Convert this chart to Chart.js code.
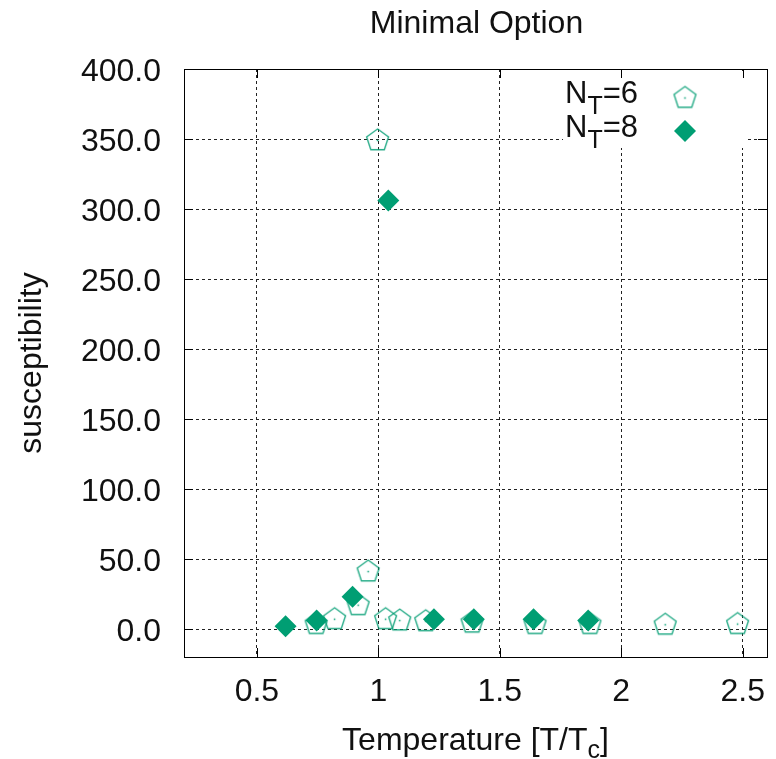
<!DOCTYPE html>
<html>
<head>
<meta charset="utf-8">
<script src="https://cdn.jsdelivr.net/npm/chart.js@4.4.0/dist/chart.umd.min.js"></script>
<style>
  html, body { margin: 0; padding: 0; background: #fff; }
</style>
</head>
<body>
<canvas id="myChart" width="776" height="759"></canvas>
<script>
// N_T = 6 (open pentagons)
var temp6 = [0.744, 0.82, 0.917, 0.958, 0.997, 1.03, 1.088, 1.195, 1.386, 1.645, 1.871, 2.181, 2.479];
var chi6 = [3.5, 7, 17, 41, 349, 7, 6, 5.5, 4.5, 3.5, 3.5, 3, 3.5];
// N_T = 8 (filled diamonds)
var temp8 = [0.618, 0.746, 0.894, 1.041, 1.229, 1.393, 1.639, 1.864];
var chi8 = [2, 6, 23, 306, 7, 7, 7, 6];

var xTicks = [0.5, 1, 1.5, 2, 2.5];
var yTicks = [0, 50, 100, 150, 200, 250, 300, 350, 400];

var green = "#009e73";
var FONT = "'Liberation Sans', Arial, sans-serif";

function toPoints(xs, ys) {
  var out = [];
  for (var i = 0; i < xs.length; i++) out.push({ x: xs[i], y: ys[i] });
  return out;
}

// pentagon marker as a small canvas
function makePentagon(r) {
  var c = document.createElement("canvas");
  var s = Math.ceil(r * 2 + 4);
  c.width = s;
  c.height = s;
  var g = c.getContext("2d");
  g.strokeStyle = "rgba(0,158,115,0.85)";
  g.lineWidth = 1.4;
  g.beginPath();
  for (var k = 0; k < 5; k++) {
    var a = -Math.PI / 2 + (k * 2 * Math.PI) / 5;
    var px = s / 2 + r * Math.cos(a);
    var py = s / 2 + r * Math.sin(a);
    if (k === 0) g.moveTo(px, py);
    else g.lineTo(px, py);
  }
  g.closePath();
  g.stroke();
  g.fillStyle = green;
  g.fillRect(s / 2 - 0.75, s / 2 - 0.75, 1.5, 1.5);
  return c;
}
var pentagon = makePentagon(11.5);

function drawSubText(ctx, x, y, parts) {
  // parts: [text, size, dy]
  parts.forEach(function (p) {
    ctx.font = p[1] + "px " + FONT;
    ctx.fillText(p[0], x, y + p[2]);
    x += ctx.measureText(p[0]).width;
  });
  return x;
}

function textWidth(ctx, parts) {
  var w = 0;
  parts.forEach(function (p) {
    ctx.font = p[1] + "px " + FONT;
    w += ctx.measureText(p[0]).width;
  });
  return w;
}

var decorations = {
  id: "decorations",
  beforeDatasetsDraw: function (chart) {
    var ctx = chart.ctx;
    var a = chart.chartArea;
    // key box hides the grid
    ctx.save();
    ctx.fillStyle = "#fff";
    ctx.fillRect(a.right - 204, a.top + 2, 185, 77);
    ctx.restore();
  },
  afterDraw: function (chart) {
    var ctx = chart.ctx;
    var a = chart.chartArea;
    var xs = chart.scales.x;
    var ys = chart.scales.y;
    ctx.save();
    ctx.strokeStyle = "#000";
    ctx.lineWidth = 1;
    ctx.strokeRect(Math.round(a.left) + 0.5, Math.round(a.top) + 0.5,
      Math.round(a.right - a.left), Math.round(a.bottom - a.top));
    // inward ticks on all four sides
    var tl = 9;
    ctx.beginPath();
    xTicks.forEach(function (v) {
      var px = Math.round(xs.getPixelForValue(v)) + 0.5;
      ctx.moveTo(px, a.bottom);
      ctx.lineTo(px, a.bottom - tl);
      ctx.moveTo(px, a.top);
      ctx.lineTo(px, a.top + tl);
    });
    yTicks.forEach(function (v) {
      var py = Math.round(ys.getPixelForValue(v)) + 0.5;
      ctx.moveTo(a.left, py);
      ctx.lineTo(a.left + tl, py);
      ctx.moveTo(a.right, py);
      ctx.lineTo(a.right - tl, py);
    });
    ctx.stroke();

    ctx.fillStyle = "#111";
    ctx.textBaseline = "alphabetic";
    ctx.textAlign = "left";

    // title
    ctx.font = "32px " + FONT;
    var tw = ctx.measureText("Minimal Option").width;
    ctx.fillText("Minimal Option", (a.left + a.right) / 2 + 1 - tw / 2, 33);

    // x axis title with subscript
    var xt = [["Temperature [T/T", 32, 0], ["c", 25, 8], ["]", 32, 0]];
    var xw = textWidth(ctx, xt);
    drawSubText(ctx, (a.left + a.right) / 2 - xw / 2, 750, xt);

    // key
    var kx = a.right - 202;
    drawSubText(ctx, kx, a.top + 34, [["N", 31, 0], ["T", 25, 11], ["=6", 31, 0]]);
    drawSubText(ctx, kx, a.top + 68, [["N", 31, 0], ["T", 25, 11], ["=8", 31, 0]]);

    var mx = a.right - 82;
    ctx.drawImage(pentagon, mx - pentagon.width / 2, a.top + 29 - pentagon.height / 2);
    ctx.fillStyle = green;
    ctx.beginPath();
    var my = a.top + 62, r = 11;
    ctx.moveTo(mx, my - r);
    ctx.lineTo(mx + r, my);
    ctx.lineTo(mx, my + r);
    ctx.lineTo(mx - r, my);
    ctx.closePath();
    ctx.fill();
    ctx.restore();
  },
};

var ctx = document.getElementById("myChart").getContext("2d");
new Chart(ctx, {
  type: "scatter",
  data: {
    datasets: [
      {
        label: "N_T=6",
        data: toPoints(temp6, chi6),
        pointStyle: pentagon,
        order: 1,
      },
      {
        label: "N_T=8",
        data: toPoints(temp8, chi8),
        pointStyle: "rectRot",
        pointRadius: 11,
        backgroundColor: green,
        borderColor: green,
        borderWidth: 0,
        order: 0,
      },
    ],
  },
  options: {
    responsive: false,
    animation: false,
    events: [],
    layout: { autoPadding: false, padding: { left: 8, right: 9, top: 69, bottom: 0 } },
    plugins: {
      legend: { display: false },
      tooltip: { enabled: false },
      title: { display: false },
    },
    scales: {
      x: {
        type: "linear",
        min: 0.2,
        max: 2.6,
        bounds: "data",
        afterBuildTicks: function (s) {
          s.ticks = xTicks.map(function (v) { return { value: v }; });
        },
        afterFit: function (s) {
          s.height = 102;
        },
        grid: {
          color: "#222",
          lineWidth: 1,
          drawTicks: true,
          tickLength: 13,
          tickColor: "rgba(0,0,0,0)",
        },
        border: { display: false, dash: [3, 3] },
        ticks: {
          autoSkip: false,
          maxRotation: 0,
          padding: 3,
          color: "#111",
          font: { family: FONT, size: 32 },
          callback: function (v) { return String(v); },
        },
      },
      y: {
        type: "linear",
        min: -20,
        max: 400,
        bounds: "data",
        afterBuildTicks: function (s) {
          s.ticks = yTicks.map(function (v) { return { value: v }; });
        },
        afterFit: function (s) {
          s.width = 176;
        },
        grid: { color: "#222", lineWidth: 1, drawTicks: false },
        border: { display: false, dash: [3, 3] },
        title: {
          display: true,
          text: "susceptibility",
          color: "#111",
          font: { family: FONT, size: 32 },
          padding: { top: 5, bottom: 0 },
        },
        ticks: {
          autoSkip: false,
          padding: 23,
          labelOffset: 3,
          color: "#111",
          font: { family: FONT, size: 32 },
          callback: function (v) { return v.toFixed(1); },
        },
      },
    },
  },
  plugins: [decorations],
});
</script>
</body>
</html>
